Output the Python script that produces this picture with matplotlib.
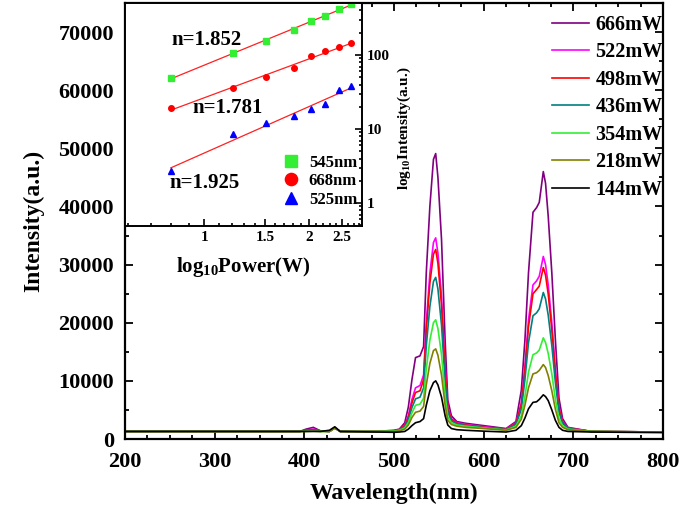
import numpy as np
import matplotlib
matplotlib.use("Agg")
import matplotlib.pyplot as plt
from matplotlib.ticker import MultipleLocator, FixedLocator, NullFormatter, FixedFormatter

plt.rcParams['font.family'] = ['Liberation Serif', 'DejaVu Serif']
plt.rcParams['font.weight'] = 'bold'
plt.rcParams['mathtext.fontset'] = 'custom'
plt.rcParams['mathtext.rm'] = 'Liberation Serif:bold'
plt.rcParams['mathtext.it'] = 'Liberation Serif:bold'
plt.rcParams['mathtext.bf'] = 'Liberation Serif:bold'

# ---- emission spectra ----
wl = [200, 300, 395, 402, 410, 418, 428, 434, 440, 480, 500, 506, 512, 516,
      520, 524, 529, 533, 536, 540, 544, 546.5, 549, 553, 557, 560, 564, 570,
      580, 600, 625, 636, 642, 646, 650, 655, 659, 662, 666.5, 669, 672, 676,
      680, 684, 688, 694, 720, 800]

p666 = [1300, 1300, 1300, 1700, 2000, 1400, 1300, 1900, 1300, 1300, 1500, 1700, 2800, 5500,
        10200, 14000, 14300, 15900, 28600, 40000, 48100, 49100, 45000, 34300, 17000, 6700, 4000, 3000,
        2700, 2300, 1800, 3000, 8400, 17000, 28600, 39000, 39800, 40700, 46000, 44000, 38300, 28600,
        17000, 7000, 3500, 2000, 1300, 1200]
p522 = [1300, 1300, 1300, 1500, 1700, 1400, 1300, 1900, 1300, 1300, 1400, 1600, 2400, 4000,
        6800, 8800, 9200, 11000, 20000, 28500, 33800, 34600, 32000, 24500, 12500, 5500, 3500, 2800,
        2500, 2100, 1700, 2800, 6200, 12500, 20500, 26500, 27200, 28000, 31400, 30000, 26500, 20000,
        12000, 5500, 3000, 1900, 1300, 1200]
p498 = [1300, 1300, 1300, 1500, 1600, 1400, 1300, 1900, 1300, 1300, 1400, 1600, 2300, 3700,
        6200, 8000, 8300, 10200, 18800, 26800, 31800, 32600, 30200, 23000, 11800, 5200, 3400, 2700,
        2400, 2000, 1650, 2700, 5900, 11800, 19300, 25000, 25700, 26300, 29500, 28200, 24900, 18800,
        11300, 5200, 2900, 1850, 1300, 1200]
p436 = [1300, 1300, 1300, 1400, 1500, 1350, 1300, 1900, 1300, 1300, 1400, 1550, 2100, 3300,
        5400, 6900, 7200, 8800, 16000, 22800, 27100, 27800, 25800, 19600, 10000, 4600, 3100, 2600,
        2300, 1950, 1600, 2500, 5100, 10200, 16600, 21200, 21700, 22400, 25200, 24100, 21300, 16100,
        9700, 4600, 2700, 1800, 1300, 1200]
p354 = [1300, 1300, 1300, 1350, 1400, 1300, 1300, 1900, 1300, 1300, 1350, 1500, 1900, 2800,
        4500, 5800, 6000, 7000, 12000, 17000, 20000, 20500, 19000, 14500, 7500, 3800, 2800, 2400,
        2200, 1900, 1550, 2200, 4000, 7300, 11500, 14500, 14800, 15300, 17400, 16600, 14700, 11200,
        6800, 3500, 2300, 1700, 1300, 1200]
p218 = [1300, 1300, 1300, 1300, 1350, 1300, 1300, 1900, 1300, 1300, 1300, 1400, 1700, 2400,
        3700, 4600, 4800, 5600, 9300, 13000, 15200, 15500, 14400, 11000, 5800, 3200, 2500, 2200,
        2000, 1800, 1500, 2000, 3400, 5800, 8800, 11200, 11400, 11800, 12800, 12300, 10900, 8300,
        5100, 2800, 2000, 1600, 1300, 1200]
p144 = [1300, 1300, 1300, 1300, 1300, 1300, 1500, 2100, 1300, 1200, 1150, 1200, 1300, 1700,
        2300, 2800, 3000, 3500, 5800, 8300, 9700, 10000, 9300, 7200, 4000, 2400, 1800, 1600,
        1500, 1350, 1200, 1500, 2300, 3600, 5200, 6300, 6400, 6800, 7600, 7300, 6600, 5000,
        3200, 2000, 1500, 1300, 1200, 1100]

series = [p666, p522, p498, p436, p354, p218, p144]
labels = ["666mW", "522mW", "498mW", "436mW", "354mW", "218mW", "144mW"]
colors = ["#800080", "#ff00ff", "#ff0000", "#008080", "#33ee33", "#808000", "#000000"]

# ---- inset: power dependence ----
power = [0.80, 1.21, 1.51, 1.81, 2.03, 2.23, 2.45, 2.65]
i545 = [49, 106, 155, 218, 288, 336, 418, 489]
i668 = [19.2, 35.8, 50.5, 66.7, 96.9, 113, 128, 145]
i525 = [2.7, 8.6, 12.1, 15.0, 18.6, 21.8, 33.7, 38.1]
slopes = ["n=1.852", "n=1.781", "n=1.925"]

fig = plt.figure(figsize=(6.85, 5.11), dpi=100)
ax = fig.add_axes([125/685, 1-439/511, 538/685, 436/511])

for y, lab, c in zip(series, labels, colors):
    ax.plot(wl, y, color=c, lw=1.2, label=lab)

ax.set_xlim(200, 800)
ax.set_ylim(0, 75000)
ax.xaxis.set_major_locator(MultipleLocator(100))
ax.xaxis.set_minor_locator(MultipleLocator(25))
ax.yaxis.set_major_locator(MultipleLocator(10000))
ax.yaxis.set_minor_locator(MultipleLocator(5000))
ax.tick_params(which='both', direction='in', top=True, right=True, width=1.3)
ax.tick_params(which='major', length=6, labelsize=16)
ax.tick_params(axis='x', which='major', pad=9)
ax.tick_params(axis='y', which='major', pad=8)
ax.tick_params(which='minor', length=3)
for s in ax.spines.values():
    s.set_linewidth(1.6)
ax.set_xlabel("Wavelength(nm)", fontsize=17, fontweight='bold', labelpad=8)
ax.set_ylabel("Intensity(a.u.)", fontsize=17, fontweight='bold', labelpad=10)

ax.legend(loc='upper left', bbox_to_anchor=(552/685, 1-15/511), bbox_transform=fig.transFigure,
          frameon=False, fontsize=14.5, handlelength=1.85, handletextpad=0.3,
          labelspacing=0.37, borderpad=0, borderaxespad=0)

# inset
axi = fig.add_axes([125/685, 1-226/511, 237/685, 223/511])
axi.set_xscale('log')
axi.set_yscale('log')
mk = dict(ls='none', ms=4)
axi.plot(power, i545, marker='s', color='#33ee33', label='545nm', **mk)
axi.plot(power, i668, marker='o', color='#ff0000', label='668nm', **mk)
axi.plot(power, i525, marker='^', color='#0000ff', label='525nm', **mk)
lx = np.log10(power)
for vals in (i545, i668, i525):
    k, b = np.polyfit(lx, np.log10(vals), 1)
    axi.plot(power, 10 ** (k * lx + b), color='#ff2020', lw=0.9, zorder=1)

axi.set_xlim(0.59, 2.85)
axi.set_ylim(0.49, 505)
axi.xaxis.set_major_locator(FixedLocator([1, 1.5, 2, 2.5]))
axi.xaxis.set_major_formatter(FixedFormatter(["1", "1.5", "2", "2.5"]))
axi.xaxis.set_minor_locator(FixedLocator([0.6, 0.7, 0.8, 0.9, 1.1, 1.2, 1.3, 1.4, 1.6, 1.7,
                                          1.8, 1.9, 2.1, 2.2, 2.3, 2.4, 2.6, 2.7, 2.8]))
axi.xaxis.set_minor_formatter(NullFormatter())
axi.yaxis.set_major_locator(FixedLocator([1, 10, 100]))
axi.yaxis.set_major_formatter(FixedFormatter(["1", "10", "100"]))
axi.yaxis.set_minor_formatter(NullFormatter())
axi.yaxis.tick_right()
axi.yaxis.set_label_position('right')
axi.tick_params(which='both', direction='in', width=1.2, labelsize=11)
axi.tick_params(which='major', length=5)
axi.tick_params(which='minor', length=2.5)
for s in axi.spines.values():
    s.set_linewidth(1.4)
axi.set_xlabel(r"log$_{10}$Power(W)", fontsize=15, fontweight='bold', labelpad=8)
axi.set_ylabel(r"log$_{10}$Intensity(a.u.)", fontsize=11, fontweight='bold')
axi.yaxis.set_label_coords(1.14, 0.44)

axi.text(0.195, 0.834, slopes[0], transform=axi.transAxes, fontsize=15, fontweight='bold', va='center')
axi.text(0.284, 0.529, slopes[1], transform=axi.transAxes, fontsize=15, fontweight='bold', va='center')
axi.text(0.186, 0.193, slopes[2], transform=axi.transAxes, fontsize=15, fontweight='bold', va='center')

axi.legend(loc='lower right', frameon=False, fontsize=12, markerscale=2.2,
           handlelength=0.9, handletextpad=0.6, labelspacing=0.15,
           borderpad=0, borderaxespad=0.3, bbox_to_anchor=(1.0, 0.06))

fig.savefig("out.png", dpi=100)
